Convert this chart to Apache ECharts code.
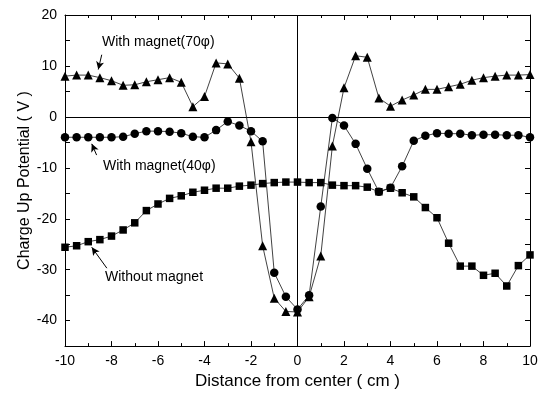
<!DOCTYPE html>
<html>
<head>
<meta charset="utf-8">
<script src="https://cdn.jsdelivr.net/npm/echarts@6/dist/echarts.min.js"></script>
<style>
  html, body { margin: 0; padding: 0; background: #fff; }
  #chart { width: 546px; height: 395px; }
</style>
</head>
<body>
<div id="chart"></div>
<script>
// 横轴位置 (cm)，每 0.5 cm 一个点
const positions = [
  -10, -9.5, -9, -8.5, -8, -7.5, -7, -6.5, -6, -5.5, -5, -4.5, -4, -3.5, -3, -2.5, -2, -1.5, -1, -0.5,
  0, 0.5, 1, 1.5, 2, 2.5, 3, 3.5, 4, 4.5, 5, 5.5, 6, 6.5, 7, 7.5, 8, 8.5, 9, 9.5, 10
];

// With magnet(70φ) —— 三角
const magnet70 = [
  8.0, 8.2, 8.2, 7.7, 7.1, 6.2, 6.3, 6.9, 7.3, 7.7, 6.8, 2.0, 4.0, 10.6, 10.4, 7.6, -4.9, -25.3, -35.6, -38.2,
  -38.3, -35.3, -27.3, -5.7, 5.7, 12.0, 11.7, 3.7, 2.1, 3.3, 4.3, 5.4, 5.4, 5.9, 6.4, 7.2, 7.7, 8.0, 8.2, 8.2, 8.3
];

// With magnet(40φ) —— 圆点
const magnet40 = [
  -4.0, -4.0, -4.0, -4.0, -4.0, -3.9, -3.3, -2.8, -2.8, -2.9, -3.2, -3.9, -4.0, -2.6, -0.9, -1.7, -2.8, -4.8, -30.6, -35.3,
  -37.8, -35.0, -17.6, -0.2, -1.7, -5.3, -10.2, -14.7, -13.9, -9.7, -4.7, -3.7, -3.2, -3.3, -3.3, -3.6, -3.5, -3.5, -3.6, -3.6, -4.0
];

// Without magnet —— 方块
const noMagnet = [
  -25.6, -25.3, -24.5, -24.1, -23.4, -22.2, -20.8, -18.4, -17.1, -16.0, -15.5, -14.8, -14.4, -14.0, -14.0, -13.6, -13.4, -13.1, -12.9, -12.8,
  -12.8, -12.9, -12.9, -13.4, -13.5, -13.5, -13.8, -14.7, -14.0, -14.9, -15.7, -17.8, -19.8, -24.8, -29.3, -29.3, -31.1, -30.7, -33.2, -29.2, -27.1
];

// 注释文字和箭头 (数据坐标)
const noteLabels = ["With magnet(70\u03c6)", "With magnet(40\u03c6)", "Without magnet"];
const noteArrows = [
  [[-8.42, 12.2], [-8.57, 9.3]],
  [[-8.64, -7.5], [-8.85, -5.3]],
  [[-8.2, -29.7], [-8.85, -25.6]]
];

const FONT = "'Liberation Sans', Arial, sans-serif";
const chart = echarts.init(document.getElementById("chart"));

const pair = (ys) => positions.map((x, i) => [x, ys[i]]);

const axisCommon = {
  axisLine: { show: true, onZero: false, lineStyle: { color: "#000", width: 1 } },
  axisTick: { show: true, inside: true, length: 5, lineStyle: { color: "#000" } },
  splitLine: { show: false }
};

const option = {
  animation: false,
  backgroundColor: "#fff",
  grid: { left: 65, right: 16, top: 15, bottom: 44 },
  xAxis: [
    {
      type: "value", min: -10, max: 10, interval: 2, position: "bottom",
      ...axisCommon,
      minorTick: { show: true, splitNumber: 2, length: 3, lineStyle: { color: "#000" } },
      axisLabel: { color: "#000", fontSize: 14, fontFamily: FONT, margin: 8 },
      name: "Distance from center ( cm )",
      nameLocation: "middle",
      nameGap: 13,
      nameTextStyle: { color: "#000", fontSize: 17, fontFamily: FONT }
    },
    {
      type: "value", min: -10, max: 10, interval: 2, position: "top",
      ...axisCommon,
      minorTick: { show: true, splitNumber: 2, length: 3, lineStyle: { color: "#000" } },
      axisLabel: { show: false }
    }
  ],
  yAxis: [
    {
      type: "value", min: -45, max: 20, interval: 5, position: "left",
      ...axisCommon,
      axisLabel: {
        color: "#000", fontSize: 14, fontFamily: FONT, margin: 8,
        formatter: (v) => (v % 10 === 0 ? String(v) : "")
      },
      name: "Charge Up Potential ( V )",
      nameLocation: "middle",
      nameGap: 32,
      nameMoveOverlap: false,
      nameTextStyle: { color: "#000", fontSize: 16, fontFamily: FONT }
    },
    {
      type: "value", min: -45, max: 20, interval: 5, position: "right",
      ...axisCommon,
      axisLabel: { show: false }
    }
  ],
  graphic: [
    { type: "text", left: 102, top: 35, style: { text: noteLabels[0], fill: "#000", font: "14px " + FONT } },
    { type: "text", left: 103, top: 159, style: { text: noteLabels[1], fill: "#000", font: "14px " + FONT } },
    { type: "text", left: 105, top: 270, style: { text: noteLabels[2], fill: "#000", font: "14px " + FONT } }
  ],
  series: [
    {
      name: "Without magnet",
      type: "line",
      data: pair(noMagnet),
      symbol: "rect",
      symbolSize: 7.5,
      itemStyle: { color: "#000" },
      lineStyle: { color: "#111", width: 0.8 },
      z: 3,
      markLine: {
        silent: true,
        animation: false,
        label: { show: false },
        lineStyle: { color: "#000", width: 1, type: "solid" },
        symbolSize: [6, 8],
        data: noteArrows.map(([a, b]) => [
          { coord: a, symbol: "none" },
          { coord: b, symbol: "arrow" }
        ])
      }
    },
    {
      name: "With magnet(40\u03c6)",
      type: "line",
      data: pair(magnet40),
      symbol: "circle",
      symbolSize: 8.5,
      itemStyle: { color: "#000" },
      lineStyle: { color: "#111", width: 0.8 },
      z: 4
    },
    {
      name: "With magnet(70\u03c6)",
      type: "line",
      data: pair(magnet70),
      symbol: "triangle",
      symbolSize: 9,
      itemStyle: { color: "#000" },
      lineStyle: { color: "#111", width: 0.8 },
      z: 5,
      markLine: {
        silent: true,
        animation: false,
        symbol: "none",
        label: { show: false },
        lineStyle: { color: "#000", width: 1, type: "solid" },
        data: [{ xAxis: 0 }, { yAxis: 0 }]
      }
    }
  ]
};

chart.setOption(option);
</script>
</body>
</html>
